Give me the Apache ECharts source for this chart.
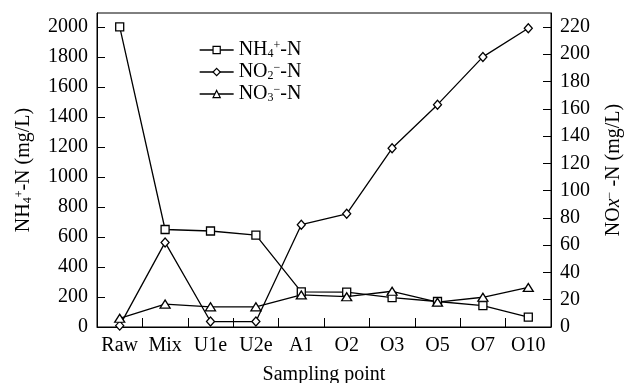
<!DOCTYPE html>
<html>
<head>
<meta charset="utf-8">
<script src="https://cdn.jsdelivr.net/npm/echarts@6/dist/echarts.min.js"></script>
<style>
  html, body { margin: 0; padding: 0; background: #fff; }
  #chart { width: 627px; height: 383px; }
</style>
</head>
<body>
<div id="chart"></div>
<script>
// sampling points
const categories = ['Raw', 'Mix', 'U1e', 'U2e', 'A1', 'O2', 'O3', 'O5', 'O7', 'O10']
// NH4+-N, left axis (mg/L)
const nh4 = [2000, 650, 640, 612, 234, 232, 196, 170, 142, 66]
// NO2--N, right axis (mg/L)
const no2 = [1, 62, 4, 4, 75, 83, 131, 163, 198, 219]
// NO3--N, right axis (mg/L)
const no3 = [6.4, 16.8, 14.8, 14.8, 23.5, 22.2, 26.2, 18.2, 21.8, 29]

const FONT = 'Liberation Serif'
const FS = 20

// rich styles for sub / superscripts
const rich = {
  t: { fontFamily: FONT, fontSize: FS, color: '#000' },
  i: { fontFamily: FONT, fontSize: FS, color: '#000', fontStyle: 'italic' },
  sub: { fontFamily: FONT, fontSize: 12, color: '#000', verticalAlign: 'bottom', padding: [8, 0, 0, 0] },
  sup: { fontFamily: FONT, fontSize: 12, color: '#000', verticalAlign: 'top', padding: [0, 0, 8, 0] }
}

const legendText = {
  'NH4+-N': '{t|NH}{sub|4}{sup|+}{t|-N}',
  'NO2--N': '{t|NO}{sub|2}{sup|−}{t|-N}',
  'NO3--N': '{t|NO}{sub|3}{sup|−}{t|-N}'
}

const lineStyle = { color: '#000', width: 1.3 }
const itemStyle = { color: '#fff', borderColor: '#000', borderWidth: 1.3 }

const chart = echarts.init(document.getElementById('chart'))
chart.setOption({
  animation: false,
  backgroundColor: '#fff',
  grid: {
    left: 97, right: 76, top: 13, bottom: 56,
    outerBoundsMode: 'none',
    containLabel: false,
    show: true, borderColor: '#000', borderWidth: 1, backgroundColor: 'transparent'
  },
  legend: {
    orient: 'vertical',
    left: 194,
    top: 35,
    itemWidth: 34,
    itemHeight: 9,
    itemGap: 2,
    data: ['NH4+-N', 'NO2--N', 'NO3--N'],
    formatter: name => legendText[name],
    itemStyle: { color: '#fff', borderColor: '#000', borderWidth: 1.2 },
    lineStyle: { color: '#000', width: 1.3 },
    textStyle: { rich: rich, fontFamily: FONT, fontSize: FS, color: '#000' }
  },
  xAxis: {
    type: 'category',
    data: categories,
    boundaryGap: true,
    name: 'Sampling point',
    nameLocation: 'middle',
    nameGap: 38,
    nameTextStyle: { fontFamily: FONT, fontSize: FS, color: '#000' },
    axisLine: { lineStyle: { color: '#000', width: 1 } },
    axisTick: { show: true, inside: true, length: 9, interval: 0, lineStyle: { color: '#000', width: 1 } },
    axisLabel: { fontFamily: FONT, fontSize: FS, color: '#000', margin: 9, interval: 0 }
  },
  yAxis: [
    {
      type: 'value',
      min: 0,
      max: 2093,
      interval: 200,
      position: 'left',
      name: '{t|NH}{sub|4}{sup|+}{t|-N (mg/L)}',
      nameLocation: 'middle',
      nameRotate: 90,
      nameGap: 63,
      nameTextStyle: { rich: rich },
      splitLine: { show: false },
      axisLine: { show: true, lineStyle: { color: '#000', width: 1 } },
      axisTick: { show: true, inside: true, length: 8, lineStyle: { color: '#000' } },
      axisLabel: { fontFamily: FONT, fontSize: FS, color: '#000', margin: 9, showMaxLabel: false, formatter: v => String(v) }
    },
    {
      type: 'value',
      min: 0,
      max: 230.2,
      interval: 20,
      position: 'right',
      name: '{t|NO}{i|x}{sup|−}{t| -N (mg/L)}',
      nameLocation: 'middle',
      nameRotate: 90,
      nameGap: 53,
      nameTextStyle: { rich: rich },
      splitLine: { show: false },
      axisLine: { show: true, lineStyle: { color: '#000', width: 1 } },
      axisTick: { show: true, inside: true, length: 8, lineStyle: { color: '#000' } },
      axisLabel: { fontFamily: FONT, fontSize: FS, color: '#000', margin: 9, showMaxLabel: false, formatter: v => String(v) }
    }
  ],
  series: [
    {
      name: 'NH4+-N', type: 'line', yAxisIndex: 0, data: nh4,
      symbol: 'rect', symbolSize: 8, lineStyle: lineStyle, itemStyle: itemStyle
    },
    {
      name: 'NO2--N', type: 'line', yAxisIndex: 1, data: no2,
      symbol: 'diamond', symbolSize: [8, 9], lineStyle: lineStyle, itemStyle: itemStyle
    },
    {
      name: 'NO3--N', type: 'line', yAxisIndex: 1, data: no3,
      symbol: 'triangle', symbolSize: [10, 8], lineStyle: lineStyle, itemStyle: itemStyle
    }
  ]
})
</script>
</body>
</html>
